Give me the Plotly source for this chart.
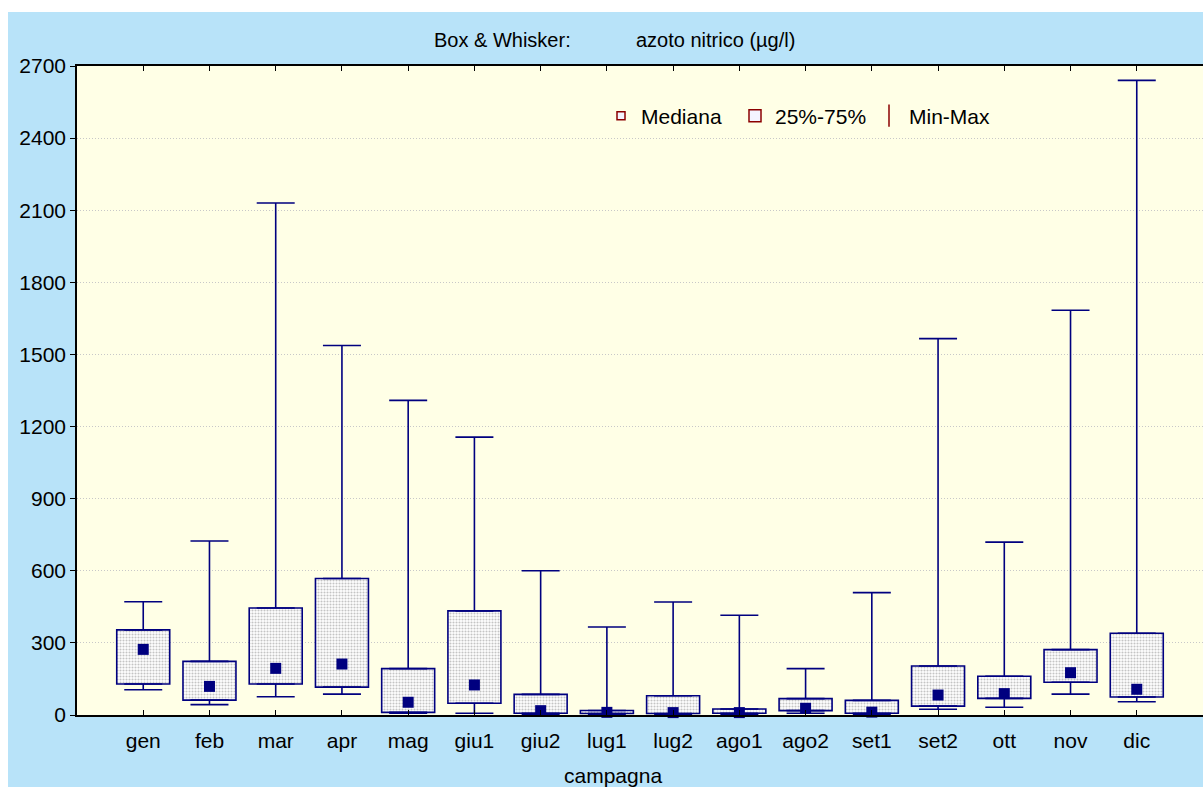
import plotly.graph_objects as go

cats = ["gen", "feb", "mar", "apr", "mag", "giu1", "giu2", "lug1", "lug2",
        "ago1", "ago2", "set1", "set2", "ott", "nov", "dic"]
vmin = [105, 43, 76, 87, 7, 7, 3, 2, 2, 2, 7, 3, 24, 32, 87, 55]
q1 = [129, 62, 129, 116, 11, 49, 7, 6, 6, 7, 18, 7, 37, 69, 136, 75]
med = [273, 119, 194, 212, 53, 125, 18, 11, 10, 10, 28, 12, 83, 89, 176, 107]
q3 = [354, 223, 445, 568, 193, 433, 86, 19, 80, 25, 68, 61, 204, 161, 272, 340]
vmax = [471, 724, 2130, 1537, 1309, 1156, 600, 366, 470, 415, 193, 509, 1566, 719, 1684, 2640]
yticks = [0, 300, 600, 900, 1200, 1500, 1800, 2100, 2400, 2700]

NAVY = "#00007f"
DRED = "#8b0000"
FONT = "Liberation Sans, Arial, sans-serif"
W, H = 1203, 787
L, R, T, B = 77, 0, 66, 787 - 715
pw, ph = W - L - R, H - T - B

def px_x(p):  # page pixel -> paper
    return (p - L) / pw

def px_y(p):
    return (H - B - p) / ph

fig = go.Figure()

fig.add_trace(go.Bar(
    x=list(range(len(cats))), y=[b - a for a, b in zip(q1, q3)], base=q1,
    width=0.8, showlegend=False, hoverinfo="skip",
    marker=dict(color="#ffffff", line=dict(color=NAVY, width=1.6),
                pattern=dict(shape=".", fgcolor="#8a8a8a", bgcolor="#ffffff",
                             size=3, solidity=0.4)),
))
fig.add_trace(go.Scatter(
    x=list(range(len(cats))), y=q3, mode="markers", showlegend=False,
    marker=dict(size=1, opacity=0), hoverinfo="skip",
    error_y=dict(type="data", symmetric=False,
                 array=[b - a for a, b in zip(q3, vmax)],
                 arrayminus=[0] * len(cats), width=19, thickness=1.6, color=NAVY),
))
fig.add_trace(go.Scatter(
    x=list(range(len(cats))), y=q1, mode="markers", showlegend=False,
    marker=dict(size=1, opacity=0), hoverinfo="skip",
    error_y=dict(type="data", symmetric=False,
                 array=[0] * len(cats),
                 arrayminus=[a - b for a, b in zip(q1, vmin)],
                 width=19, thickness=1.6, color=NAVY),
))
fig.add_trace(go.Scatter(
    x=list(range(len(cats))), y=med, mode="markers", showlegend=False,
    cliponaxis=False,
    marker=dict(symbol="square", size=11, color=NAVY, line=dict(width=0)),
))

fig.add_trace(go.Scatter(x=[None], y=[None], mode="markers", name="Mediana",
                         marker=dict(symbol="square", size=8, color="#f4f4ff",
                                     line=dict(color=DRED, width=1.5))))
fig.add_trace(go.Bar(x=[None], y=[None], name="25%-75%",
                     marker=dict(color="#f4f4ff", line=dict(color=DRED, width=1.5))))
fig.add_trace(go.Scatter(x=[None], y=[None], mode="markers", name="Min-Max",
                         marker=dict(symbol="line-ns", size=16, color=DRED,
                                     line=dict(color=DRED, width=1.5))))

fig.update_layout(
    width=W, height=H,
    margin=dict(l=L, r=R, t=T, b=B),
    paper_bgcolor="#b8e3f9",
    plot_bgcolor="#ffffe6",
    font=dict(family=FONT, size=21, color="#000000"),
    barmode="overlay",
    showlegend=True,
    legend=dict(orientation="h", x=px_x(601), y=px_y(116), xanchor="left",
                yanchor="middle", bgcolor="rgba(0,0,0,0)",
                font=dict(family=FONT, size=21), itemwidth=30,
                entrywidth=89, entrywidthmode="pixels",
                tracegroupgap=0),
    xaxis=dict(range=[-1, 16], tickmode="array",
               tickvals=list(range(len(cats))), ticktext=cats,
               ticks="inside", ticklen=5, tickcolor="#000000",
               showline=True, linecolor="#000000", linewidth=1.5,
               mirror="ticks", showgrid=False, zeroline=False,
               ticklabelstandoff=6, tickfont=dict(size=21)),
    yaxis=dict(range=[0, 2700], tickmode="array", tickvals=yticks,
               ticks="outside", ticklen=5, tickcolor="#000000",
               showline=True, linecolor="#000000", linewidth=1.5,
               showgrid=True, gridcolor="#c8c8c8", griddash="1px,2px",
               gridwidth=1, zeroline=False, tickfont=dict(size=21)),
    shapes=[
        dict(type="rect", xref="paper", yref="paper", layer="below",
             x0=px_x(-5), x1=px_x(1210), y0=px_y(12), y1=px_y(-5),
             fillcolor="#ffffff", line=dict(width=0)),
        dict(type="rect", xref="paper", yref="paper", layer="below",
             x0=px_x(-5), x1=px_x(8), y0=px_y(795), y1=px_y(-5),
             fillcolor="#ffffff", line=dict(width=0)),
    ],
    annotations=[
        dict(text="Box & Whisker:", xref="paper", yref="paper",
             x=px_x(432), y=px_y(40), xanchor="left", yanchor="middle",
             showarrow=False, font=dict(size=20)),
        dict(text="azoto nitrico (µg/l)", xref="paper", yref="paper",
             x=px_x(634), y=px_y(40), xanchor="left", yanchor="middle",
             showarrow=False, font=dict(size=20)),
        dict(text="campagna", xref="paper", yref="paper",
             x=px_x(613), y=px_y(775), xanchor="center", yanchor="middle",
             showarrow=False, font=dict(size=21)),
    ],
)

fig.write_html(
    "out.html",
    config={"displayModeBar": False},
    post_script="document.body.style.margin='0';document.body.style.overflow='hidden';",
)
